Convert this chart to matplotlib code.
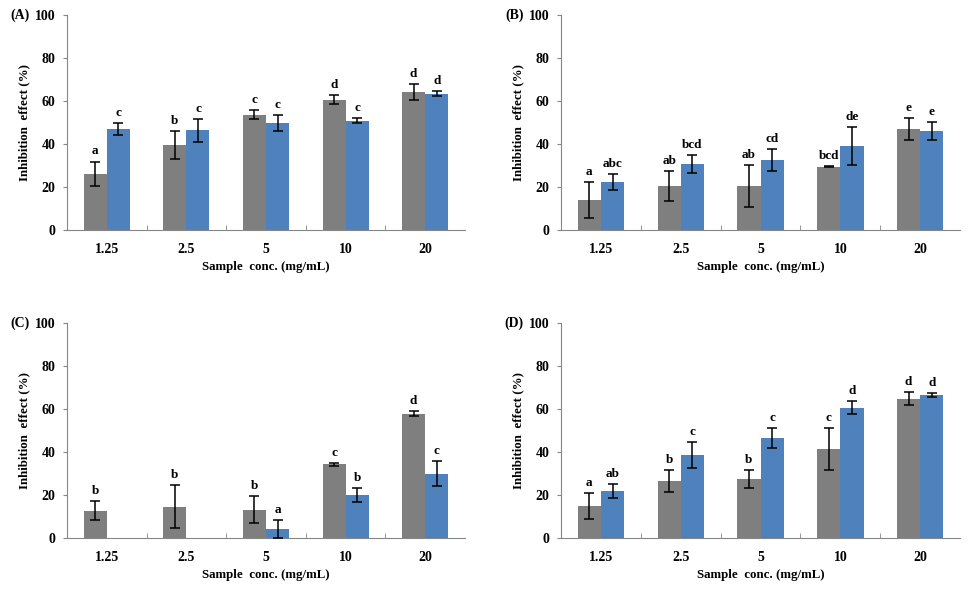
import numpy as np
import matplotlib.pyplot as plt

plt.rcParams['font.family'] = ['Liberation Serif', 'DejaVu Serif']
plt.rcParams['font.weight'] = 'bold'

concs = ['1.25', '2.5', '5', '10', '20']

# panel A
a_gray = [26.1, 39.6, 53.6, 60.6, 64.3]
a_gray_err = [5.7, 6.4, 2.1, 2.1, 3.6]
a_blue = [46.9, 46.4, 49.8, 50.8, 63.4]
a_blue_err = [2.8, 5.3, 3.6, 1.2, 1.2]
a_gray_lbl = ['a', 'b', 'c', 'd', 'd']
a_blue_lbl = ['c', 'c', 'c', 'c', 'd']

# panel B
b_gray = [14.0, 20.5, 20.5, 29.5, 47.0]
b_gray_err = [8.2, 6.8, 9.6, 0.3, 5.0]
b_blue = [22.4, 30.7, 32.6, 39.1, 46.1]
b_blue_err = [3.6, 4.0, 5.0, 8.7, 4.0]
b_gray_lbl = ['a', 'ab', 'ab', 'bcd', 'e']
b_blue_lbl = ['abc', 'bcd', 'cd', 'de', 'e']

# panel C (no blue bar at 1.25 and 2.5)
c_gray = [12.7, 14.6, 13.2, 34.2, 57.8]
c_gray_err = [4.4, 9.9, 6.2, 0.8, 1.2]
c_blue = [None, None, 4.2, 20.0, 30.0]
c_blue_err = [None, None, 4.2, 3.1, 5.7]
c_gray_lbl = ['b', 'b', 'b', 'c', 'd']
c_blue_lbl = ['', '', 'a', 'b', 'c']

# panel D
d_gray = [14.9, 26.6, 27.5, 41.5, 64.8]
d_gray_err = [6.0, 5.0, 4.1, 9.7, 3.1]
d_blue = [21.9, 38.7, 46.6, 60.6, 66.6]
d_blue_err = [3.1, 6.0, 4.5, 3.1, 0.8]
d_gray_lbl = ['a', 'b', 'b', 'c', 'd']
d_blue_lbl = ['ab', 'c', 'c', 'd', 'd']

GRAY = '#7f7f7f'
BLUE = '#4f81bd'
AXC = '#868686'


def draw_panel(ax, tag, gray, gray_err, gray_lbl, blue, blue_err, blue_lbl):
    x = np.arange(len(concs))
    w = 0.29
    for series, errs, lbls, col, off in [(gray, gray_err, gray_lbl, GRAY, -w / 2),
                                          (blue, blue_err, blue_lbl, BLUE, w / 2)]:
        for i in range(len(concs)):
            if series[i] is None:
                continue
            ax.bar(x[i] + off, series[i], w, color=col, zorder=2)
            ax.errorbar(x[i] + off, series[i], yerr=errs[i], fmt='none',
                        ecolor='black', elinewidth=1.1, capsize=3.5, capthick=1.1, zorder=3)
            ax.annotate(lbls[i], (x[i] + off, series[i] + errs[i]),
                        xytext=(0, 3), textcoords='offset points',
                        ha='center', va='bottom', fontsize=9.5, fontweight='bold')
    ax.set_xlim(-0.5, len(concs) - 0.5)
    ax.set_ylim(0, 100)
    ax.set_yticks([0, 20, 40, 60, 80, 100])
    ax.set_xticks(x)
    ax.set_xticklabels(concs)
    ax.set_xticks(np.arange(0.5, len(concs) - 0.5, 1.0), minor=True)
    ax.tick_params(axis='x', which='major', length=0, pad=9, labelsize=10)
    ax.tick_params(axis='x', which='minor', direction='in', length=3.5, color=AXC)
    ax.tick_params(axis='y', direction='out', length=3, color=AXC, labelsize=10, pad=5.5)
    for s in ['top', 'right']:
        ax.spines[s].set_visible(False)
    for s in ['left', 'bottom']:
        ax.spines[s].set_color(AXC)
    ax.set_xlabel('Sample  conc. (mg/mL)', fontsize=9.3, fontweight='bold', labelpad=4)
    ax.set_ylabel('Inhibition  effect (%)', fontsize=9.3, fontweight='bold', labelpad=3)
    ax.text(-0.093, 1.0, tag, transform=ax.transAxes, ha='right', va='center',
            fontsize=10, fontweight='bold')


fig = plt.figure(figsize=(9.74, 5.97), dpi=100)
axA = fig.add_axes([0.0688, 0.6147, 0.4086, 0.3601])
axB = fig.add_axes([0.5760, 0.6147, 0.4097, 0.3601])
axC = fig.add_axes([0.0688, 0.0988, 0.4086, 0.3601])
axD = fig.add_axes([0.5760, 0.0988, 0.4097, 0.3601])

draw_panel(axA, '(A)', a_gray, a_gray_err, a_gray_lbl, a_blue, a_blue_err, a_blue_lbl)
draw_panel(axB, '(B)', b_gray, b_gray_err, b_gray_lbl, b_blue, b_blue_err, b_blue_lbl)
draw_panel(axC, '(C)', c_gray, c_gray_err, c_gray_lbl, c_blue, c_blue_err, c_blue_lbl)
draw_panel(axD, '(D)', d_gray, d_gray_err, d_gray_lbl, d_blue, d_blue_err, d_blue_lbl)

fig.savefig('out.png', dpi=100)
